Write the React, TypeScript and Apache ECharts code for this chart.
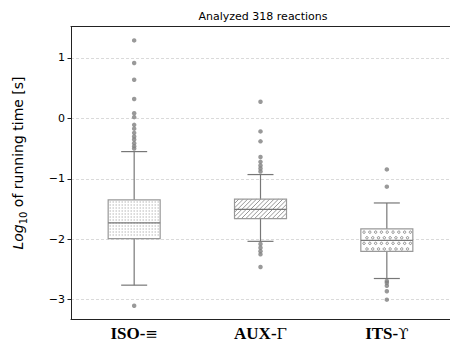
import React, { useEffect, useRef } from 'react';
import * as echarts from 'echarts';

const categories = ['ISO-≡', 'AUX-Γ', 'ITS-ϒ'];
const lowWhisker = [-2.76, -2.035, -2.65];
const q1 = [-1.99, -1.66, -2.2];
const median = [-1.73, -1.505, -2.02];
const q3 = [-1.35, -1.336, -1.83];
const highWhisker = [-0.55, -0.93, -1.4];
const isoOutliers = [1.29, 0.915, 0.64, 0.32, 0.085, 0.02, -0.107, -0.17, -0.24, -0.3, -0.35, -0.41, -0.46, -0.5, -3.1];
const auxOutliers = [0.275, -0.216, -0.38, -0.64, -0.72, -0.78, -0.83, -0.88, -2.08, -2.14, -2.2, -2.25, -2.46];
const itsOutliers = [-0.845, -1.13, -2.69, -2.72, -2.77, -2.86, -3.0];
const yTicks = [-3, -2, -1, 0, 1];
const titleText = 'Analyzed 318 reactions';

const patterns = ['dots', 'hatch', 'circles'];

function renderBox(params: any, api: any) {
  const i = api.value(0);
  const pLow = api.coord([i, api.value(1)]);
  const pQ1 = api.coord([i, api.value(2)]);
  const pMed = api.coord([i, api.value(3)]);
  const pQ3 = api.coord([i, api.value(4)]);
  const pHigh = api.coord([i, api.value(5)]);
  const xc = pLow[0];
  const halfW = 26;
  const capHalf = 13;
  const wColor = '#777';
  const children: any[] = [];
  children.push({ type: 'line', shape: { x1: xc, y1: pQ3[1], x2: xc, y2: pHigh[1] }, style: { stroke: wColor, lineWidth: 1.2 } });
  children.push({ type: 'line', shape: { x1: xc, y1: pQ1[1], x2: xc, y2: pLow[1] }, style: { stroke: wColor, lineWidth: 1.2 } });
  children.push({ type: 'line', shape: { x1: xc - capHalf, y1: pHigh[1], x2: xc + capHalf, y2: pHigh[1] }, style: { stroke: wColor, lineWidth: 1.2 } });
  children.push({ type: 'line', shape: { x1: xc - capHalf, y1: pLow[1], x2: xc + capHalf, y2: pLow[1] }, style: { stroke: wColor, lineWidth: 1.2 } });
  const x0 = xc - halfW, x1 = xc + halfW, y0 = pQ3[1], y1 = pQ1[1];
  children.push({ type: 'rect', shape: { x: x0, y: y0, width: x1 - x0, height: y1 - y0 }, style: { fill: '#fff' } });
  const pat = patterns[i];
  if (pat === 'dots') {
    for (let y = y0 + 2; y < y1 - 1; y += 3) {
      for (let x = x0 + 2; x < x1 - 1; x += 3) {
        children.push({ type: 'rect', shape: { x: x - 0.55, y: y - 0.55, width: 1.1, height: 1.1 }, style: { fill: '#9a9a9a' } });
      }
    }
  } else if (pat === 'hatch') {
    const s = 4.4;
    for (let c = x0 + y0; c <= x1 + y1; c += s) {
      const xa = Math.max(x0, c - y1);
      const xb = Math.min(x1, c - y0);
      if (xb - xa < 0.3) continue;
      children.push({ type: 'line', shape: { x1: xa, y1: c - xa, x2: xb, y2: c - xb }, style: { stroke: '#8a8a8a', lineWidth: 0.9 } });
    }
  } else {
    const sx = 5.8, sy = 5.6;
    let row = 0;
    for (let y = y0 + 3.2; y < y1 - 2; y += sy, row++) {
      const off = row % 2 === 0 ? 3.2 : 0.3;
      for (let x = x0 + off; x < x1 - 1.2; x += sx) {
        if (x < x0 + 1.5) continue;
        children.push({ type: 'circle', shape: { cx: x, cy: y, r: 1.2 }, style: { fill: 'none', stroke: '#808080', lineWidth: 0.9 } });
      }
    }
  }
  children.push({ type: 'rect', shape: { x: x0, y: y0, width: x1 - x0, height: y1 - y0 }, style: { fill: 'none', stroke: '#999', lineWidth: 1.2 } });
  children.push({ type: 'line', shape: { x1: x0, y1: pMed[1], x2: x1, y2: pMed[1] }, style: { stroke: wColor, lineWidth: 1.2 } });
  return { type: 'group', children };
}

export default function App() {
  const ref = useRef<HTMLDivElement>(null);
  useEffect(() => {
    document.body.style.margin = '0';
    const chart = echarts.init(ref.current!, undefined, { renderer: 'svg' });
    const boxData = categories.map((_, i) => [i, lowWhisker[i], q1[i], median[i], q3[i], highWhisker[i]]);
    const outliers: number[][] = [];
    [isoOutliers, auxOutliers, itsOutliers].forEach((arr, i) => arr.forEach(v => outliers.push([i, v])));
    chart.setOption({
      animation: false,
      grid: { left: 71, top: 26.5, width: 383.5, height: 294.5, show: false },
      xAxis: [
        {
          type: 'category',
          data: categories,
          boundaryGap: true,
          position: 'bottom',
          axisLine: { show: true, onZero: false, lineStyle: { color: '#222', width: 1 } },
          axisTick: { show: false },
          splitLine: { show: false },
          axisLabel: {
            margin: 6,
            color: '#000',
            formatter: (v: string) => {
              const k = v.lastIndexOf('-');
              return '{b|' + v.slice(0, k + 1) + '}{n|' + v.slice(k + 1) + '}';
            },
            rich: {
              b: { fontFamily: 'Liberation Serif', fontWeight: 'bold', fontSize: 17, color: '#000' },
              n: { fontFamily: 'DejaVu Serif', fontSize: 15, color: '#000' },
            },
          },
        },
        {
          type: 'category',
          data: categories,
          boundaryGap: true,
          position: 'top',
          axisLine: { show: true, onZero: false, lineStyle: { color: '#222', width: 1 } },
          axisTick: { show: false },
          axisLabel: { show: false },
          splitLine: { show: false },
        },
      ],
      yAxis: {
        type: 'value',
        min: -3.32,
        max: 1.52,
        axisLine: { show: true, onZero: false, lineStyle: { color: '#222', width: 1 } },
        axisTick: { show: true, length: 3.5, customValues: yTicks, lineStyle: { color: '#222', width: 1 } },
        axisLabel: {
          customValues: yTicks,
          margin: 6,
          color: '#000',
          fontFamily: 'DejaVu Sans',
          fontSize: 11,
          formatter: (v: number) => String(v).replace('-', '\u2212'),
        },
        splitLine: { show: true, lineStyle: { color: '#d0d0d0', type: [3, 2], width: 0.8 } },
      },
      graphic: [
        { type: 'text', x: 263, y: 16, style: { text: titleText, fontFamily: 'DejaVu Sans', fontSize: 11, fill: '#000', textAlign: 'center', textVerticalAlign: 'middle' } },
        {
          type: 'text', x: 16, y: 163, rotation: Math.PI / 2,
          style: {
            text: '{i|Log}{s|10}{n| of running time [s]}',
            textAlign: 'center', textVerticalAlign: 'middle',
            rich: {
              i: { fontFamily: 'DejaVu Sans', fontStyle: 'italic', fontSize: 14, fill: '#000', lineHeight: 18, verticalAlign: 'bottom' },
              s: { fontFamily: 'DejaVu Sans', fontSize: 10, fill: '#000', lineHeight: 18, verticalAlign: 'bottom', padding: [0, 0, -3, 0] },
              n: { fontFamily: 'DejaVu Sans', fontSize: 14, fill: '#000', lineHeight: 18, verticalAlign: 'bottom' },
            },
          },
        },
      ],
      series: [
        { type: 'custom', renderItem: renderBox, data: boxData, encode: { x: 0, y: [1, 2, 3, 4, 5] }, z: 3 },
        { type: 'scatter', data: outliers, symbol: 'circle', symbolSize: 4.5, itemStyle: { color: '#808080' }, z: 4 },
      ],
    });
    return () => chart.dispose();
  }, []);
  return <div ref={ref} style={{ position: 'absolute', left: 0, top: 0, width: 450, height: 342 }} />;
}
